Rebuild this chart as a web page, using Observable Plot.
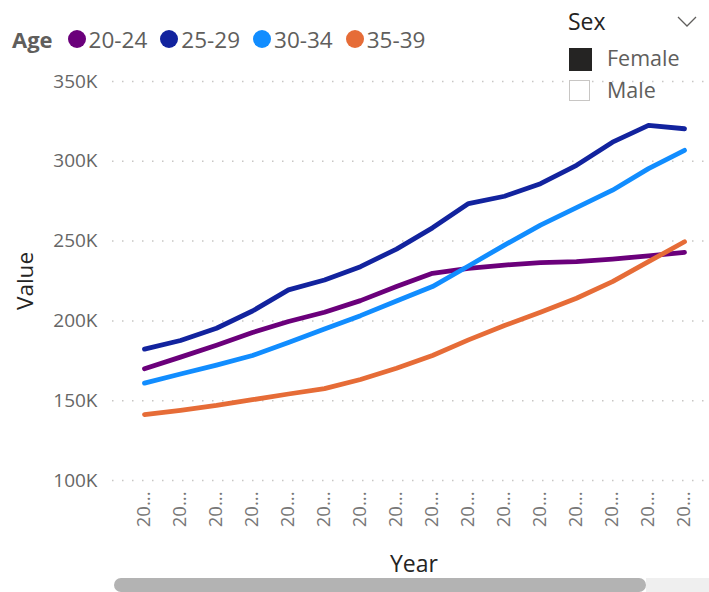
<!DOCTYPE html>
<html>
<head>
<meta charset="utf-8">
<script src="https://cdn.jsdelivr.net/npm/d3@7"></script>
<script src="https://cdn.jsdelivr.net/npm/@observablehq/plot@0.6"></script>
<style>
  body { margin: 0; background: #fff; font-family: "Segoe UI", "Open Sans", "Noto Sans", sans-serif; }
  #wrap { position: relative; width: 709px; height: 592px; overflow: hidden; }
  #chart { position: absolute; left: 0; top: 0; }
  .abs { position: absolute; white-space: nowrap; }
</style>
</head>
<body>
<div id="wrap">
  <div id="chart"></div>
  <div id="legend" class="abs" style="left:12px; top:24px; height:30px; display:flex; align-items:center; font-size:22.5px; color:#605E5C;"></div>
  <div class="abs" style="left:568px; top:5px; font-size:23px; font-weight:500; color:#252423;">Sex</div>
  <svg class="abs" style="left:676px; top:15px;" width="24" height="14"><polyline points="2,2 11,11 20,2" fill="none" stroke="#605E5C" stroke-width="1.3"/></svg>
  <div id="slicer"></div>
  <div class="abs" style="left:0; width:828px; top:547px; text-align:center; font-size:23px; color:#252423;">Year</div>
  <div class="abs" style="left:646px; top:578px; width:63px; height:14px; background:#efefef;"></div>
  <div class="abs" style="left:114px; top:578px; width:532px; height:14px; background:#b3b3b3; border-radius:7px;"></div>
</div>
<script>
const years = [2005, 2006, 2007, 2008, 2009, 2010, 2011, 2012, 2013, 2014, 2015, 2016, 2017, 2018, 2019, 2020];
const ages = ["20-24", "25-29", "30-34", "35-39"];
const colors = ["#6B007B", "#12239E", "#118DFF", "#E66C37"];
const v20_24 = [170000, 177300, 184800, 192700, 199600, 205400, 212700, 221500, 229800, 232900, 235000, 236500, 237100, 238700, 240800, 242900];
const v25_29 = [182300, 187700, 195400, 206200, 219400, 225600, 234000, 245000, 258300, 273500, 278100, 286000, 297500, 312000, 322500, 320400];
const v30_34 = [161000, 166700, 172300, 178300, 186500, 195000, 203300, 212500, 221500, 234400, 247500, 260000, 271000, 281900, 295400, 306900];
const v35_39 = [141300, 144000, 147000, 150600, 154200, 157600, 163300, 170300, 178300, 188100, 197100, 205400, 214200, 224600, 237100, 249600];
const yTicks = [100000, 150000, 200000, 250000, 300000, 350000];
const sexOptions = ["Female", "Male"];
const sexSelected = ["Female"];

const series = [v20_24, v25_29, v30_34, v35_39];
const rows = [];
ages.forEach((a, i) => years.forEach((y, j) => rows.push({age: a, year: y, value: series[i][j]})));

const plot = Plot.plot({
  width: 709,
  height: 592,
  marginLeft: 112,
  marginRight: 0,
  marginTop: 81,
  marginBottom: 112,
  style: {fontFamily: '"Segoe UI", "Open Sans", "Noto Sans", sans-serif', background: "transparent"},
  x: {type: "point", domain: years, range: [143, 685], padding: 0, label: null},
  y: {domain: [100000, 350000], label: null},
  color: {domain: ages, range: colors},
  marks: [
    Plot.ruleY(yTicks, {stroke: "#c8c6c4", strokeWidth: 1.5, strokeDasharray: "1.5,8.5", strokeOpacity: 1}),
    Plot.axisY({ticks: yTicks, tickSize: 0, tickPadding: 15, tickFormat: d => d / 1000 + "K", fontSize: 19, fill: "#666666", label: null}),
    Plot.axisX({ticks: years, tickSize: 0, tickPadding: 11, tickRotate: -90, tickFormat: d => String(d).slice(0, 2) + "...", fontSize: 18.5, fill: "#777777", label: null}),
    Plot.text(["Value"], {frameAnchor: "left", dx: -87, rotate: -90, fontSize: 22.5, fill: "#252423", textAnchor: "middle"}),
    Plot.lineY(rows, {x: "year", y: "value", stroke: "age", strokeWidth: 4.8, strokeLinejoin: "round", strokeLinecap: "round"})
  ]
});
document.getElementById("chart").appendChild(plot);

const leg = document.getElementById("legend");
const t = document.createElement("span");
t.textContent = "Age";
t.style.cssText = "font-weight:bold; margin-right:15px; font-size:22px;";
leg.appendChild(t);
ages.forEach((a, i) => {
  const dot = document.createElement("span");
  dot.style.cssText = `display:inline-block; width:18px; height:18px; border-radius:50%; background:${colors[i]}; margin-right:3px;`;
  leg.appendChild(dot);
  const lab = document.createElement("span");
  lab.textContent = a;
  lab.style.cssText = "margin-right:13px;";
  leg.appendChild(lab);
});

const sl = document.getElementById("slicer");
sexOptions.forEach((s, i) => {
  const top = 48 + i * 32;
  const box = document.createElement("div");
  box.className = "abs";
  const sel = sexSelected.includes(s);
  box.style.cssText = `left:569px; top:${top}px; width:${sel ? 23 : 21}px; height:${sel ? 23 : 21}px; box-sizing:border-box; background:${sel ? "#252423" : "#fff"}; border:${sel ? "none" : "1px solid #c8c6c4"};`;
  sl.appendChild(box);
  const lab = document.createElement("div");
  lab.className = "abs";
  lab.textContent = s;
  lab.style.cssText = `left:607px; top:${top - 5}px; font-size:21.5px; color:#605E5C;`;
  sl.appendChild(lab);
});
</script>
</body>
</html>
